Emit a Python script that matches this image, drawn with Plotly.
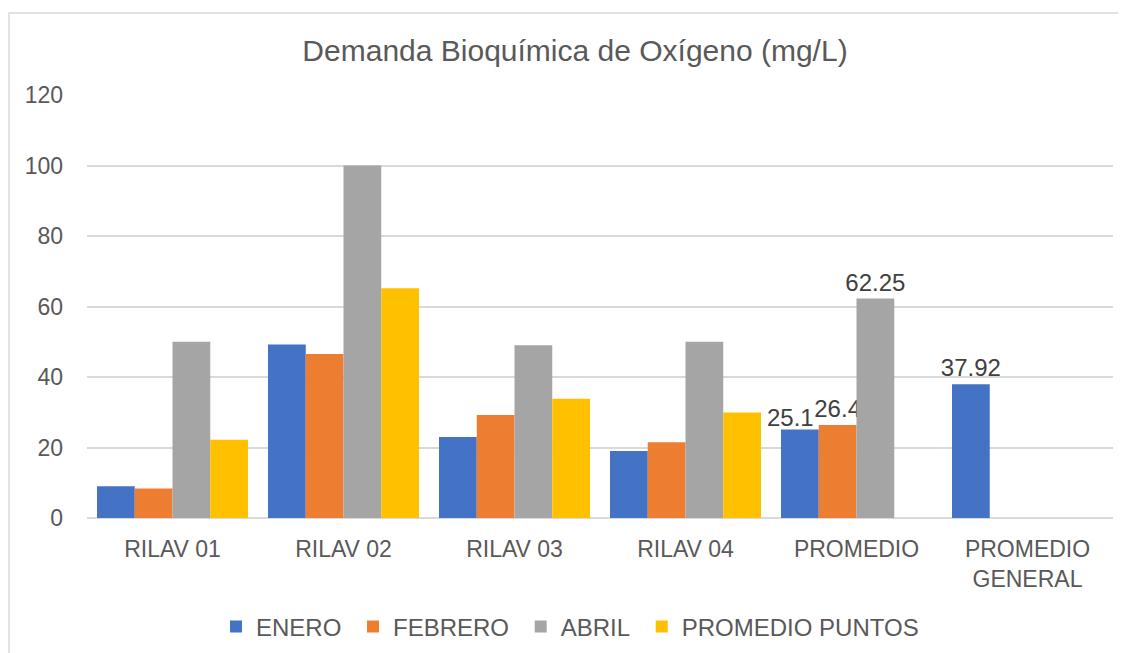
import plotly.graph_objects as go

categories = ["RILAV 01", "RILAV 02", "RILAV 03", "RILAV 04", "PROMEDIO", "PROMEDIO<br>GENERAL"]
series_names = ["ENERO", "FEBRERO", "ABRIL", "PROMEDIO PUNTOS"]
enero = [9.0, 49.2, 23.0, 19.0, 25.1, 37.92]
febrero = [8.4, 46.5, 29.2, 21.5, 26.4, None]
abril = [50, 100, 49, 50, 62.25, None]
promedio_puntos = [22.2, 65.2, 33.8, 29.9, None, None]
labeled_categories = ["PROMEDIO", "PROMEDIO<br>GENERAL"]
y_ticks = [0, 20, 40, 60, 80, 100, 120]

colors = ["#4472C4", "#ED7D31", "#A5A5A5", "#FFC000"]
text_col = "#595959"
label_col = "#404040"
FONT = "Liberation Sans, Arial, sans-serif"
NB = "\u00a0"

# the page body has an 8px margin, so the figure is drawn 8px lower/right than its own coordinates
OFF = 8
W, H = 1126 - OFF, 653 - OFF
L, R, T, B = 87 - OFF, 13, 95 - OFF, 135
pw, ph = W - L - R, H - T - B

def px_x(sx):
    return (sx - OFF - L) / pw

def px_y(sy):
    return (H - B - (sy - OFF)) / ph

fig = go.Figure()
annotations = []
for i, (name, vals, col) in enumerate(zip(series_names, [enero, febrero, abril, promedio_puntos], colors)):
    txt = []
    for c, v in zip(categories, vals):
        if c in labeled_categories and v is not None:
            if i == 0 and c == "PROMEDIO":
                # drawn as an annotation, nudged left of its bar like the original
                annotations.append(dict(x=c, y=v, text=f"{v:g}", showarrow=False, xref="x", yref="y",
                                        xanchor="center", yanchor="bottom", xshift=-66, yshift=-3,
                                        font=dict(size=24, color=label_col, family=FONT)))
                txt.append("")
            else:
                txt.append(f"{v:g}")
        else:
            txt.append("")
    fig.add_trace(go.Bar(
        name=name + (NB if i < 3 else ""), x=categories, y=vals,
        marker=dict(color=col, line=dict(width=0)),
        text=txt, textposition="outside", constraintext="none", cliponaxis=False,
        textfont=dict(size=24, color=label_col, family=FONT),
    ))

fig.update_layout(
    width=W, height=H,
    margin=dict(l=L, r=R, t=T, b=B, autoexpand=False),
    paper_bgcolor="white", plot_bgcolor="white",
    barmode="group", bargap=0.117, bargroupgap=0,
    font=dict(family=FONT, color=text_col, size=23),
    title=dict(text="Demanda Bioquímica de Oxígeno (mg/L)", x=(575 - OFF) / W, xref="container",
               xanchor="center", y=1 - (50 - OFF) / H, yref="container", yanchor="middle",
               font=dict(size=30, color=text_col, family=FONT)),
    legend=dict(orientation="h", x=px_x(570), xanchor="center", y=px_y(627), yanchor="middle",
                font=dict(size=24, color=text_col, family=FONT), traceorder="normal",
                itemclick=False),
    annotations=annotations,
    shapes=[dict(type="rect", xref="paper", yref="paper",
                 x0=px_x(OFF + 1), x1=px_x(1140), y0=px_y(670), y1=px_y(13),
                 line=dict(color="#D9D9D9", width=1.5), fillcolor="rgba(0,0,0,0)", layer="below")],
)
fig.update_yaxes(range=[0, 120], tickvals=y_ticks, showgrid=True, gridcolor="#D9D9D9", gridwidth=1.5,
                 zeroline=True, zerolinecolor="#D9D9D9", zerolinewidth=1.5, showline=False,
                 ticks="", ticklabelstandoff=23, automargin=False,
                 tickfont=dict(size=23, color=text_col))
fig.update_xaxes(showgrid=False, showline=False, ticks="", tickfont=dict(size=23, color=text_col),
                 ticklabelstandoff=15, automargin=False)

fig.write_html("out.html")
